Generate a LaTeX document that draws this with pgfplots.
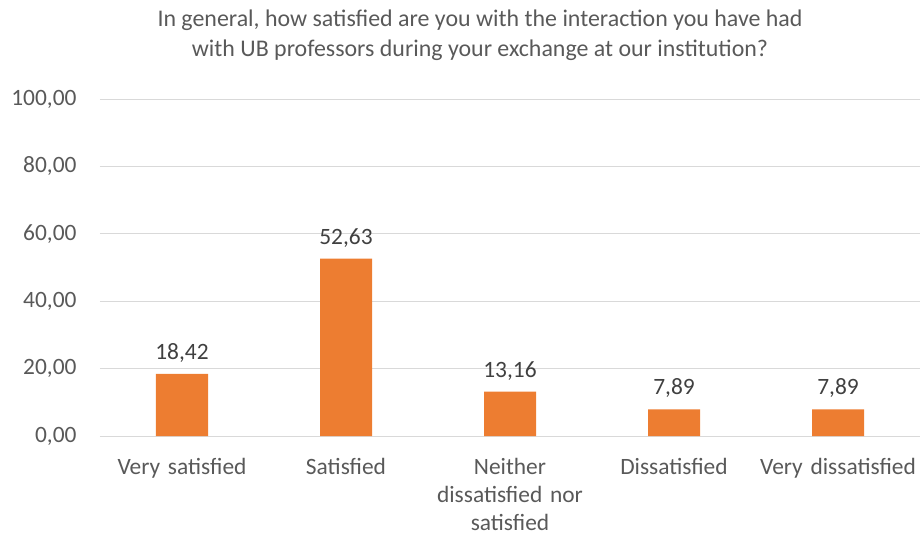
\documentclass[border=0pt]{standalone}
\usepackage{pgfplots}
\pgfplotsset{compat=1.18}
\usepackage{fontspec}
\setmainfont{Carlito}
\definecolor{barorange}{HTML}{ED7D31}
\definecolor{txt}{HTML}{595959}
\definecolor{lbl}{HTML}{404040}
\definecolor{grid}{HTML}{D9D9D9}
\begin{document}
\begin{tikzpicture}
\path[use as bounding box] (-100bp,-102bp) rectangle (820bp,436bp);
\begin{axis}[
  at={(0,0)}, anchor=south west,
  scale only axis,
  width=820bp, height=337bp,
  xmin=-0.5, xmax=4.5,
  ymin=0, ymax=100,
  ytick={0,20,40,60,80,100},
  xtick=data,
  xticklabels={Very satisfied, Satisfied, {Neither\\dissatisfied nor\\satisfied}, Dissatisfied, Very dissatisfied},
  x tick label style={align=center, text width=170bp, font=\fontsize{23.5}{28}\selectfont, text=txt, yshift=-19bp},
  y tick label style={font=\fontsize{23.5}{28}\selectfont, text=txt, xshift=-20bp},
  major tick length=0pt,
  axis line style={draw=none},
  ymajorgrids,
  grid style={draw=grid, line width=1pt},
  yticklabel style={/pgf/number format/.cd, fixed, fixed zerofill, precision=2, use comma, assume math mode=true},
  ybar,
  bar width=52bp,
  nodes near coords,
  every node near coord/.append style={font=\fontsize{23.5}{28}\selectfont, text=lbl, yshift=8bp, /pgf/number format/.cd, fixed, fixed zerofill, precision=2, use comma, assume math mode=true},
  clip=false,
]
\addplot[fill=barorange, draw=none] coordinates {(0,18.42) (1,52.63) (2,13.16) (3,7.89) (4,7.89)};
\end{axis}
\node[font=\fontsize{24}{30}\selectfont, text=txt, align=center] at (380bp,401bp) {In general, how satisfied are you with the interaction you have had\\with UB professors during your exchange at our institution?};
\end{tikzpicture}
\end{document}
